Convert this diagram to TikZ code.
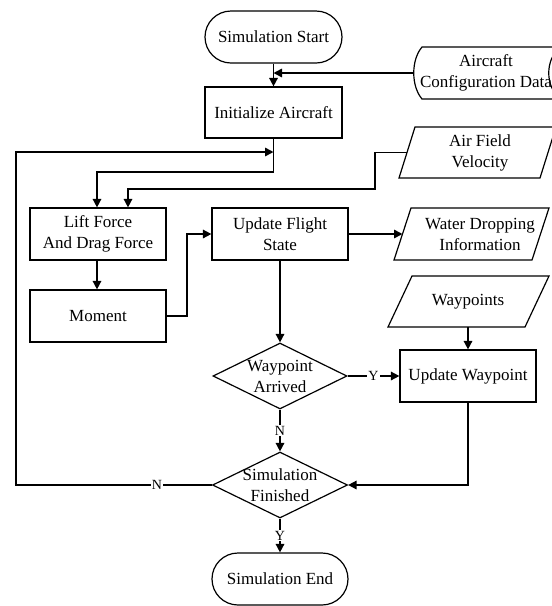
\documentclass[tikz,border=0pt]{standalone}
\usepackage{fontspec}
\setmainfont{Liberation Serif}
\usetikzlibrary{shapes.geometric,shapes.misc,arrows.meta,calc}

\begin{document}
\begin{tikzpicture}[x=1pt,y=-1pt,
  every node/.style={font=\fontsize{17}{21}\selectfont, align=center},
  box/.style={draw, line width=1.2pt, rectangle, minimum width=136pt, minimum height=52pt, inner sep=0pt},
  term/.style={draw, line width=1.2pt, rounded rectangle, minimum width=137pt, minimum height=52pt, inner sep=0pt},
  dia/.style={draw, line width=1.2pt, diamond, minimum width=135pt, minimum height=66pt, inner sep=0pt},
  io/.style={draw, line width=1.2pt, line join=miter},
  flow/.style={line width=1.6pt, -{Triangle[length=8.5pt,width=8.5pt]}},
  tag/.style={font=\fontsize{14}{14}\selectfont, fill=white, inner sep=1pt}
]
\useasboundingbox (0,0) rectangle (552,606);

% process boxes and terminals
\node[term] (start) at (273.5,37) {Simulation Start};
\node[box, minimum width=137pt, minimum height=51pt] (init) at (273.5,112.5) {Initialize Aircraft};
\node[box] (lift) at (98,234) {Lift Force\\And Drag Force};
\node[box] (moment) at (98,316) {Moment};
\node[box] (ufs) at (280,234) {Update Flight\\State};
\node[box] (uwp) at (468,376) {Update Waypoint};
\node[term, minimum width=136pt] (endn) at (280,579) {Simulation End};

% decisions
\node[dia, minimum width=134pt] (arr) at (280,376) {};
\node at (arr) {Waypoint\\Arrived};
\node[dia] (fin) at (280,485) {};
\node at (fin) {Simulation\\Finished};

% stored data: aircraft configuration
\draw[io] (422,47) -- (560,47) .. controls (545,60) and (545,86) .. (560,99)
  -- (422,99) .. controls (411,86) and (411,60) .. (422,47) -- cycle;
\node (acd) at (486,73) {Aircraft\\Configuration Data};
\coordinate (acd-in) at (413.5,73);

% input / output parallelograms
\draw[io] (415,127) -- (556,127) -- (540,178) -- (399,178) -- cycle;
\node (afv) at (480,152.5) {Air Field\\Velocity};
\coordinate (afv-in) at (407,152.5);

\draw[io] (411,208) -- (549,208) -- (532,260) -- (394,260) -- cycle;
\node (wdi) at (480,234) {Water Dropping\\Information};
\coordinate (wdi-in) at (402.5,234);

\draw[io] (412,276) -- (549,276) -- (525,327) -- (388,327) -- cycle;
\node (wpt) at (468,301.5) {Waypoints};
\coordinate (wpt-out) at (468,327);

% routing helpers
\coordinate (row1) at (0,172);
\coordinate (afv-bend) at (375,189);
\coordinate (loopc) at (16,152);
\coordinate (mb) at (187,0);

% connectors
\draw[flow] (start.south) -- (init.north);
\draw[flow] (acd-in) -- (start.south |- acd-in);
\draw[flow] (init.south) -- (init.south |- row1) -| ([xshift=-1pt]lift.north);
\draw[flow] (afv-in) -| (afv-bend) -| ([xshift=30pt]lift.north);
\draw[flow] (fin.west) -- node[tag, pos=0.28] {N} (fin.west -| loopc) |- (init.south |- loopc);
\draw[flow] ([xshift=-1pt]lift.south) -- ([xshift=-1pt]moment.north);
\draw[flow] (moment.east) -- (moment.east -| mb) -- (mb |- ufs.west) -- (ufs.west);
\draw[flow] (ufs.east) -- (wdi-in);
\draw[flow] (ufs.south) -- (arr.north);
\draw[flow] (arr.east) -- node[tag] {Y} (uwp.west);
\draw[flow] (arr.south) -- node[tag] {N} (fin.north);
\draw[flow] (wpt-out) -- (uwp.north);
\draw[flow] (uwp.south) |- (fin.east);
\draw[flow] (fin.south) -- node[tag] {Y} (endn.north);
\end{tikzpicture}
\end{document}
